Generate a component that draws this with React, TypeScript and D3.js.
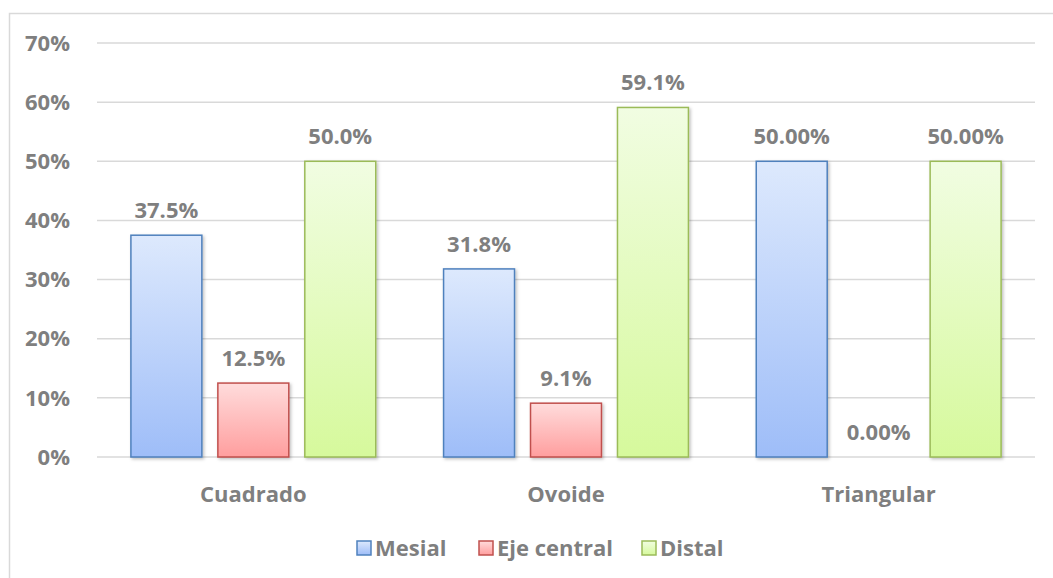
import React from 'react';
import * as d3 from 'd3';

const categories = ['Cuadrado', 'Ovoide', 'Triangular'];
const seriesNames = ['Mesial', 'Eje central', 'Distal'];
const mesial = [37.5, 31.8, 50.0];
const ejeCentral = [12.5, 9.1, 0.0];
const distal = [50.0, 59.1, 50.0];
const labels = [
  ['37.5%', '31.8%', '50.00%'],
  ['12.5%', '9.1%', '0.00%'],
  ['50.0%', '59.1%', '50.00%'],
];
const yTicks = [0, 10, 20, 30, 40, 50, 60, 70];

const colors = [
  { top: '#dde9fd', bottom: '#9ebdf8', stroke: '#4f81bd' },
  { top: '#ffdcdc', bottom: '#ff9e9e', stroke: '#c0504d' },
  { top: '#f1fde2', bottom: '#d6f99c', stroke: '#9bbb59' },
];

const W = 1053;
const H = 578;
const font = "'Open Sans', 'Noto Sans', sans-serif";
const textColor = '#7f7f7f';
const fs = 22;

const App: React.FC = () => {
  const values = [mesial, ejeCentral, distal];
  const margin = { left: 97, right: 18, top: 43, bottom: 121 };

  const x0 = d3.scaleBand<string>()
    .domain(categories)
    .range([margin.left, W - margin.right])
    .padding(0);

  const x1 = d3.scaleBand<string>()
    .domain(seriesNames)
    .range([0, x0.bandwidth()])
    .paddingInner(0.184)
    .paddingOuter(0.39);

  const y = d3.scaleLinear()
    .domain([0, 70])
    .range([H - margin.bottom, margin.top]);

  // legend layout
  const legendY = 548;
  const legendItems = [
    { x: 357, name: seriesNames[0] },
    { x: 479, name: seriesNames[1] },
    { x: 642, name: seriesNames[2] },
  ];

  return (
    <svg width={W} height={H} style={{ position: 'absolute', left: 0, top: 0, background: '#fff' }}>
      <defs>
        {colors.map((c, i) => (
          <linearGradient key={i} id={`grad${i}`} x1="0" y1="0" x2="0" y2="1">
            <stop offset="0%" stopColor={c.top} />
            <stop offset="100%" stopColor={c.bottom} />
          </linearGradient>
        ))}
        <filter id="shadow" x="-10%" y="-10%" width="130%" height="130%">
          <feDropShadow dx="1.5" dy="1.5" stdDeviation="1.5" floodColor="#000" floodOpacity="0.25" />
        </filter>
      </defs>

      {/* chart border */}
      <rect x={9.5} y={13.5} width={W + 20} height={H + 20} fill="none" stroke="#d9d9d9" strokeWidth={1.5} />

      {/* gridlines + y labels */}
      {yTicks.map(t => (
        <g key={t}>
          <line x1={margin.left} x2={W - margin.right} y1={y(t)} y2={y(t)} stroke="#d9d9d9" strokeWidth={1.5} />
          <text x={70} y={y(t)} dy="0.35em" textAnchor="end" fontFamily={font} fontWeight={700} fontSize={fs} fill={textColor}>
            {t}%
          </text>
        </g>
      ))}

      {/* bars */}
      {categories.map((cat, ci) => (
        <g key={cat} transform={`translate(${x0(cat)},0)`}>
          {seriesNames.map((s, si) => {
            const v = values[si][ci];
            const bx = x1(s)!;
            const by = y(v);
            const bh = y(0) - by;
            return (
              <g key={s}>
                {v > 0 && (
                  <rect
                    x={bx}
                    y={by}
                    width={x1.bandwidth()}
                    height={bh}
                    fill={`url(#grad${si})`}
                    stroke={colors[si].stroke}
                    strokeWidth={1.5}
                    filter="url(#shadow)"
                  />
                )}
                <text
                  x={bx + x1.bandwidth() / 2}
                  y={by - 17}
                  textAnchor="middle"
                  fontFamily={font}
                  fontWeight={700}
                  fontSize={fs}
                  fill={textColor}
                >
                  {labels[si][ci]}
                </text>
              </g>
            );
          })}
          <text
            x={x0.bandwidth() / 2}
            y={494}
            dy="0.35em"
            textAnchor="middle"
            fontFamily={font}
            fontWeight={700}
            fontSize={fs}
            fill={textColor}
          >
            {cat}
          </text>
        </g>
      ))}

      {/* legend */}
      {legendItems.map((it, i) => (
        <g key={it.name}>
          <rect x={it.x} y={legendY - 7} width={14} height={14} fill={`url(#grad${i})`} stroke={colors[i].stroke} strokeWidth={1.5} />
          <text x={it.x + 18} y={legendY} dy="0.35em" fontFamily={font} fontWeight={700} fontSize={fs} fill={textColor}>
            {it.name}
          </text>
        </g>
      ))}
    </svg>
  );
};

export default App;
